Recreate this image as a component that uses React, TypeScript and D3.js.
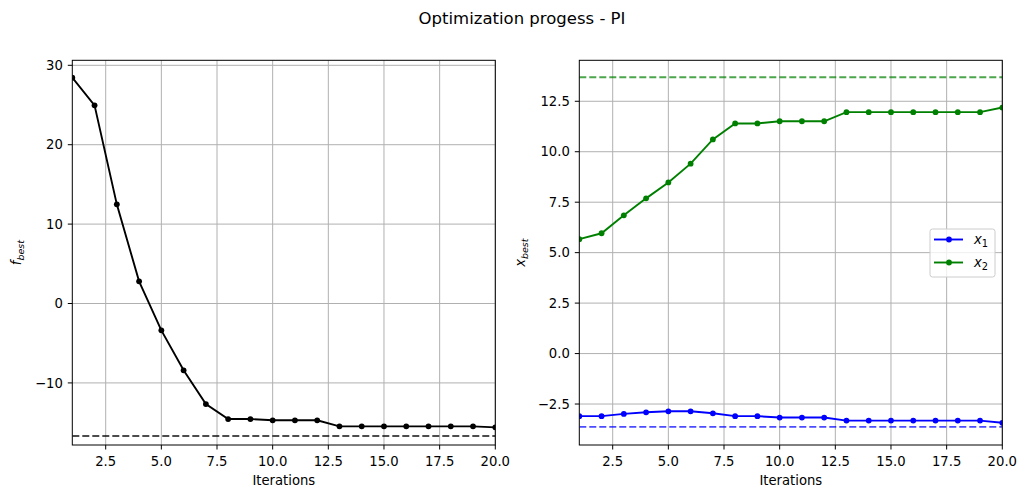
import React from "react";
import * as d3 from "d3";

const iterations = [1, 2, 3, 4, 5, 6, 7, 8, 9, 10, 11, 12, 13, 14, 15, 16, 17, 18, 19, 20];
const fBest = [28.44, 24.96, 12.49, 2.79, -3.38, -8.41, -12.66, -14.55, -14.55, -14.71, -14.71, -14.71, -15.47, -15.47, -15.47, -15.47, -15.47, -15.47, -15.47, -15.6];
const x1Best = [-3.1, -3.1, -2.99, -2.91, -2.86, -2.86, -2.96, -3.1, -3.1, -3.17, -3.17, -3.17, -3.32, -3.32, -3.32, -3.32, -3.32, -3.32, -3.32, -3.43];
const x2Best = [5.67, 5.96, 6.85, 7.69, 8.48, 9.41, 10.61, 11.4, 11.4, 11.51, 11.51, 11.51, 11.96, 11.96, 11.96, 11.96, 11.96, 11.96, 11.96, 12.19];
const fOptimum = -16.69;
const x1Optimum = -3.63;
const x2Optimum = 13.69;
const xTicks = [2.5, 5, 7.5, 10, 12.5, 15, 17.5, 20];
const fTicks = [-10, 0, 10, 20, 30];
const xbTicks = [-2.5, 0, 2.5, 5, 7.5, 10, 12.5];
const title = "Optimization progess - PI";
const xLabel = "Iterations";

const FONT = "DejaVu Sans";
const TOP = 60.3;
const BOTTOM = 445;
const TICK_FS = 13.2;
const LW = 1.9;

const minus = (s: string) => s.replace("-", "\u2212");

type Series = { values: number[]; color: string };
type HLine = { value: number; color: string };

function Panel(props: {
  left: number;
  right: number;
  yDomain: [number, number];
  yTicks: number[];
  yFmt: (v: number) => string;
  series: Series[];
  hlines: HLine[];
  yLabelSym: string;
  yLabelX: number;
  clipId: string;
  children?: React.ReactNode;
}) {
  const { left, right, yDomain, yTicks, series, hlines, clipId } = props;
  const x = d3.scaleLinear().domain([1, 20]).range([left, right]);
  const y = d3.scaleLinear().domain(yDomain).range([BOTTOM, TOP]);
  const line = d3
    .line<number>()
    .x((_, i) => x(iterations[i]))
    .y((d) => y(d));
  const cy = (TOP + BOTTOM) / 2;
  return (
    <g>
      <defs>
        <clipPath id={clipId}>
          <rect x={left} y={TOP} width={right - left} height={BOTTOM - TOP} />
        </clipPath>
      </defs>
      <g stroke="#b0b0b0" strokeWidth={1}>
        {xTicks.map((t) => (
          <line key={"gx" + t} x1={x(t)} x2={x(t)} y1={TOP} y2={BOTTOM} />
        ))}
        {yTicks.map((t) => (
          <line key={"gy" + t} x1={left} x2={right} y1={y(t)} y2={y(t)} />
        ))}
      </g>
      <g clipPath={`url(#${clipId})`}>
        {hlines.map((h, i) => (
          <line
            key={"h" + i}
            x1={left}
            x2={right}
            y1={y(h.value)}
            y2={y(h.value)}
            stroke={h.color}
            strokeWidth={LW}
            strokeDasharray="7,3"
            opacity={0.7}
          />
        ))}
        {series.map((s, i) => (
          <g key={"s" + i}>
            <path d={line(s.values) || ""} fill="none" stroke={s.color} strokeWidth={LW} />
            {s.values.map((v, j) => (
              <circle key={j} cx={x(iterations[j])} cy={y(v)} r={2.9} fill={s.color} />
            ))}
          </g>
        ))}
      </g>
      <rect x={left} y={TOP} width={right - left} height={BOTTOM - TOP} fill="none" stroke="#000" strokeWidth={1} />
      {xTicks.map((t) => (
        <g key={"xt" + t}>
          <line x1={x(t)} x2={x(t)} y1={BOTTOM} y2={BOTTOM + 4.5} stroke="#000" strokeWidth={1} />
          <text x={x(t)} y={BOTTOM + 20.5} textAnchor="middle" fontFamily={FONT} fontSize={TICK_FS} fill="#000">
            {t.toFixed(1)}
          </text>
        </g>
      ))}
      {yTicks.map((t) => (
        <g key={"yt" + t}>
          <line x1={left - 4.5} x2={left} y1={y(t)} y2={y(t)} stroke="#000" strokeWidth={1} />
          <text
            x={left - 9.5}
            y={y(t)}
            dy="0.36em"
            textAnchor="end"
            fontFamily={FONT}
            fontSize={TICK_FS}
            fill="#000"
          >
            {minus(props.yFmt(t))}
          </text>
        </g>
      ))}
      <text x={(left + right) / 2} y={485} textAnchor="middle" fontFamily={FONT} fontSize={TICK_FS} fill="#000">
        {xLabel}
      </text>
      <text
        transform={`translate(${props.yLabelX},${cy}) rotate(-90)`}
        textAnchor="middle"
        fontFamily={FONT}
        fontSize={TICK_FS}
        fill="#000"
      >
        <tspan fontStyle="italic">{props.yLabelSym}</tspan>
        <tspan fontStyle="italic" fontSize={TICK_FS * 0.72} dy={2.5}>
          best
        </tspan>
      </text>
      {props.children}
    </g>
  );
}

export default function App() {
  const legendItems = [
    { label: "1", color: "blue" },
    { label: "2", color: "green" },
  ];
  const lx = 930;
  const ly = 229;
  return (
    <svg
      width={1027}
      height={498}
      style={{ position: "absolute", left: 0, top: 0, background: "#fff" }}
      xmlns="http://www.w3.org/2000/svg"
    >
      <rect width={1027} height={498} fill="#fff" />
      <text x={522} y={24} textAnchor="middle" fontFamily={FONT} fontSize={16.5} fill="#000">
        {title}
      </text>
      <Panel
        left={72.3}
        right={495.3}
        yDomain={[-17.82, 30.63]}
        yTicks={fTicks}
        yFmt={(v) => d3.format("d")(v)}
        series={[{ values: fBest, color: "black" }]}
        hlines={[{ value: fOptimum, color: "black" }]}
        yLabelSym="f"
        yLabelX={21}
        clipId="c1"
      />
      <Panel
        left={579.3}
        right={1002.3}
        yDomain={[-4.53, 14.53]}
        yTicks={xbTicks}
        yFmt={(v) => v.toFixed(1)}
        series={[
          { values: x1Best, color: "blue" },
          { values: x2Best, color: "green" },
        ]}
        hlines={[
          { value: x1Optimum, color: "blue" },
          { value: x2Optimum, color: "green" },
        ]}
        yLabelSym="x"
        yLabelX={525}
        clipId="c2"
      >
        <g>
          <rect
            x={lx}
            y={ly}
            width={65}
            height={48}
            rx={2.5}
            fill="#fff"
            fillOpacity={0.8}
            stroke="#cccccc"
            strokeWidth={1}
          />
          {legendItems.map((it, i) => {
            const yy = ly + 10.5 + i * 23;
            return (
              <g key={it.label}>
                <line x1={lx + 4} x2={lx + 33} y1={yy} y2={yy} stroke={it.color} strokeWidth={LW} />
                <circle cx={lx + 19} cy={yy} r={2.9} fill={it.color} />
                <text x={lx + 44} y={yy + 4.5} fontFamily={FONT} fontSize={TICK_FS} fill="#000">
                  <tspan fontStyle="italic">x</tspan>
                  <tspan fontSize={TICK_FS * 0.75} dy={2.5}>
                    {it.label}
                  </tspan>
                </text>
              </g>
            );
          })}
        </g>
      </Panel>
    </svg>
  );
}
